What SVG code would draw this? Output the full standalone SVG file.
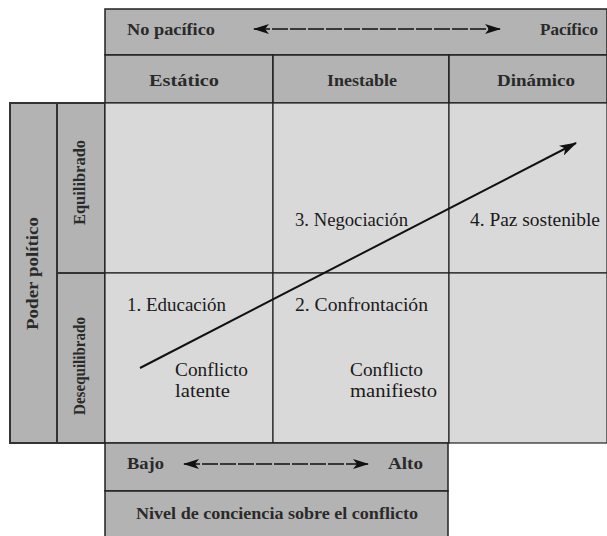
<svg xmlns="http://www.w3.org/2000/svg" width="607" height="536" viewBox="0 0 607 536">
<style>
.hdr{fill:#b3b3b3;stroke:#222;stroke-width:1.5}
.cell{fill:#d9d9d9;stroke:#222;stroke-width:1.2}
.h{font-family:"Liberation Serif","DejaVu Serif",serif;font-weight:bold;font-size:17px;fill:#2a2a2a}
.b{font-family:"Liberation Serif","DejaVu Serif",serif;font-weight:normal;font-size:19px;fill:#1a1a1a}
.dash{stroke:#111;stroke-width:1.3;stroke-dasharray:16 2;fill:none}
</style>
<defs>
<marker id="ah" viewBox="0 0 16 10" refX="15" refY="5" markerWidth="16" markerHeight="10" markerUnits="userSpaceOnUse" orient="auto-start-reverse">
<path d="M0,0 L16,5 L0,10 L4,5 z" fill="#111"/>
</marker>
<marker id="ah2" viewBox="0 0 16 10" refX="15" refY="5" markerWidth="18" markerHeight="11" markerUnits="userSpaceOnUse" orient="auto">
<path d="M0,0 L16,5 L0,10 L4,5 z" fill="#111"/>
</marker>
</defs>
<rect width="607" height="536" fill="#fff"/>

<g id="top-header">
<rect class="hdr" x="105" y="9" width="502" height="46"/>
<text class="h" x="127" y="35" textLength="88" lengthAdjust="spacingAndGlyphs">No pacífico</text>
<text class="h" x="540" y="35" textLength="58" lengthAdjust="spacingAndGlyphs">Pacífico</text>
</g>
<g id="col-estatico">
<rect class="hdr" x="105" y="55" width="168" height="48"/>
<text class="h" x="149" y="86" textLength="70" lengthAdjust="spacingAndGlyphs">Estático</text>
</g>
<g id="col-inestable">
<rect class="hdr" x="273" y="55" width="176" height="48"/>
<text class="h" x="327" y="86" textLength="70" lengthAdjust="spacingAndGlyphs">Inestable</text>
</g>
<g id="col-dinamico">
<rect class="hdr" x="449" y="55" width="158" height="48"/>
<text class="h" x="497" y="86" textLength="78" lengthAdjust="spacingAndGlyphs">Dinámico</text>
</g>

<g id="poder-politico">
<rect class="hdr" x="10" y="103" width="47" height="340" style="stroke:#333;stroke-width:2"/>
<text class="h" transform="translate(38,273.5) rotate(-90)" text-anchor="middle" textLength="113" lengthAdjust="spacingAndGlyphs">Poder político</text>
</g>
<g id="row-equilibrado">
<rect class="hdr" x="57" y="103" width="48" height="170" style="stroke:#333;stroke-width:2"/>
<text class="h" transform="translate(85,182.5) rotate(-90)" text-anchor="middle" textLength="85" lengthAdjust="spacingAndGlyphs">Equilibrado</text>
</g>
<g id="row-desequilibrado">
<rect class="hdr" x="57" y="273" width="48" height="170" style="stroke:#333;stroke-width:2"/>
<text class="h" transform="translate(85,366) rotate(-90)" text-anchor="middle" textLength="98" lengthAdjust="spacingAndGlyphs">Desequilibrado</text>
</g>

<g id="cell-11">
<rect class="cell" x="105" y="103" width="168" height="170"/>
</g>
<g id="cell-negociacion">
<rect class="cell" x="273" y="103" width="176" height="170"/>
<text class="b" x="295" y="226" textLength="113" lengthAdjust="spacingAndGlyphs">3. Negociación</text>
</g>
<g id="cell-paz">
<rect class="cell" x="449" y="103" width="158" height="170"/>
<text class="b" x="470" y="226" textLength="130" lengthAdjust="spacingAndGlyphs">4. Paz sostenible</text>
</g>
<g id="cell-educacion">
<rect class="cell" x="105" y="273" width="168" height="170"/>
<text class="b" x="127" y="311" textLength="99" lengthAdjust="spacingAndGlyphs">1. Educación</text>
<text class="b" x="175" y="376" textLength="73" lengthAdjust="spacingAndGlyphs">Conflicto</text>
<text class="b" x="175" y="397" textLength="55" lengthAdjust="spacingAndGlyphs">latente</text>
</g>
<g id="cell-confrontacion">
<rect class="cell" x="273" y="273" width="176" height="170"/>
<text class="b" x="295" y="311" textLength="133" lengthAdjust="spacingAndGlyphs">2. Confrontación</text>
<text class="b" x="350" y="376" textLength="73" lengthAdjust="spacingAndGlyphs">Conflicto</text>
<text class="b" x="350" y="397" textLength="87" lengthAdjust="spacingAndGlyphs">manifiesto</text>
</g>
<g id="cell-23">
<rect class="cell" x="449" y="273" width="158" height="170"/>
</g>

<g id="bottom-scale">
<rect class="hdr" x="105" y="443" width="343" height="48"/>
<text class="h" x="127" y="469" textLength="37" lengthAdjust="spacingAndGlyphs">Bajo</text>
<text class="h" x="388" y="469" textLength="35" lengthAdjust="spacingAndGlyphs">Alto</text>
</g>
<g id="bottom-label">
<rect class="hdr" x="105" y="491" width="343" height="50"/>
<text class="h" x="136" y="519" textLength="282" lengthAdjust="spacingAndGlyphs">Nivel de conciencia sobre el conflicto</text>
</g>

<g id="connectors">
<line class="dash" x1="254" y1="29" x2="500" y2="29" marker-start="url(#ah)" marker-end="url(#ah)"/>
<line class="dash" x1="184" y1="464" x2="368" y2="464" marker-start="url(#ah)" marker-end="url(#ah)"/>
<line x1="140" y1="368" x2="576" y2="143" stroke="#111" stroke-width="2" marker-end="url(#ah2)"/>
</g>
</svg>
